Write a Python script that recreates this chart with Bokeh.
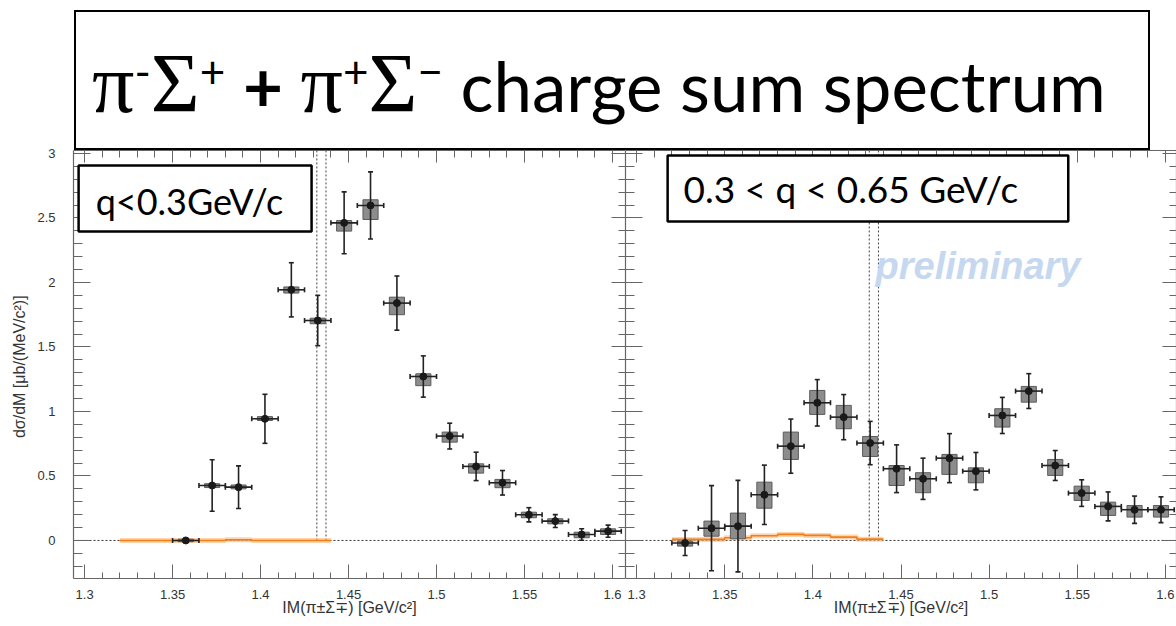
from bokeh.plotting import figure
from bokeh.models import (Div, Span, BoxAnnotation, Label, LinearAxis, FixedTicker,
                          CustomJSTickFormatter, Range1d, ColumnDataSource)
from bokeh.layouts import column, row
from bokeh.embed import file_html
from bokeh.resources import INLINE

# ---------------- data ----------------
x_ticks = [1.3, 1.35, 1.4, 1.45, 1.5, 1.55, 1.6]
x_minor = [1.29, 1.31, 1.32, 1.33, 1.34, 1.36, 1.37, 1.38, 1.39, 1.41, 1.42, 1.43, 1.44,
           1.46, 1.47, 1.48, 1.49, 1.51, 1.52, 1.53, 1.54, 1.56, 1.57, 1.58, 1.59]
y_ticks = [0, 0.5, 1, 1.5, 2, 2.5, 3]
y_minor = [-0.2, -0.1, 0.1, 0.2, 0.3, 0.4, 0.6, 0.7, 0.8, 0.9, 1.1, 1.2, 1.3, 1.4, 1.6, 1.7,
           1.8, 1.9, 2.1, 2.2, 2.3, 2.4, 2.6, 2.7, 2.8, 2.9]

thresholds = [1.4320, 1.4372]   # K-p and K0bar n thresholds (GeV/c^2)
bin_half = 0.0075
sys_half = 0.0043

# left panel: q < 0.3 GeV/c
left_mass = [1.3575, 1.3725, 1.3875, 1.4025, 1.4175, 1.4325, 1.4475, 1.4625, 1.4775,
             1.4925, 1.5075, 1.5225, 1.5375, 1.5525, 1.5675, 1.5825, 1.5975]
left_val = [0.0, 0.426, 0.413, 0.943, 1.943, 1.705, 2.462, 2.597, 1.84,
            1.271, 0.809, 0.574, 0.447, 0.199, 0.15, 0.046, 0.072]
left_stat = [0.01, 0.2, 0.165, 0.19, 0.21, 0.195, 0.24, 0.26, 0.21,
             0.16, 0.1, 0.11, 0.095, 0.055, 0.05, 0.045, 0.047]
left_sys_lo = [-0.01, 0.41, 0.40, 0.93, 1.918, 1.68, 2.398, 2.488, 1.75,
               1.2, 0.762, 0.522, 0.409, 0.176, 0.129, 0.021, 0.046]
left_sys_hi = [0.01, 0.44, 0.43, 0.96, 1.965, 1.723, 2.48, 2.641, 1.886,
               1.292, 0.84, 0.594, 0.473, 0.219, 0.168, 0.064, 0.09]

# right panel: 0.3 < q < 0.65 GeV/c
right_mass = [1.3275, 1.3425, 1.3575, 1.3725, 1.3875, 1.4025, 1.4175, 1.4325, 1.4475, 1.4625,
              1.4775, 1.4925, 1.5075, 1.5225, 1.5375, 1.5525, 1.5675, 1.5825, 1.5975]
right_val = [-0.02, 0.095, 0.111, 0.354, 0.731, 1.067, 0.956, 0.755, 0.556, 0.478,
             0.638, 0.537, 0.969, 1.158, 0.581, 0.367, 0.264, 0.238, 0.238]
right_stat = [0.097, 0.33, 0.355, 0.23, 0.21, 0.18, 0.175, 0.168, 0.185, 0.16,
              0.19, 0.145, 0.14, 0.135, 0.116, 0.103, 0.112, 0.106, 0.1]
right_sys_lo = [-0.044, 0.033, 0.013, 0.25, 0.628, 0.977, 0.866, 0.651, 0.426, 0.37,
                0.512, 0.447, 0.879, 1.072, 0.504, 0.31, 0.194, 0.181, 0.181]
right_sys_hi = [-0.005, 0.15, 0.212, 0.452, 0.84, 1.163, 1.047, 0.806, 0.581, 0.525,
                0.667, 0.563, 1.021, 1.194, 0.628, 0.421, 0.297, 0.271, 0.271]

# orange histogram (background estimate)
orange_edges = [1.32, 1.335, 1.35, 1.365, 1.38, 1.395, 1.41, 1.425, 1.44]
left_orange = [0.0, 0.0, 0.0, 0.0, 0.005, 0.0, 0.0, 0.0]
right_orange = [0.008, 0.008, 0.021, 0.036, 0.047, 0.039, 0.026, 0.01]

AXIS_COL = "#666666"
LABEL_COL = "#333333"
FONT = "Liberation Sans"


def style_axis(ax, ticks, minor, tick_len, minor_len, labels):
    ax.ticker = FixedTicker(ticks=ticks, minor_ticks=minor)
    ax.major_tick_in = tick_len
    ax.major_tick_out = 0
    ax.minor_tick_in = minor_len
    ax.minor_tick_out = 0
    ax.axis_line_color = AXIS_COL
    ax.major_tick_line_color = AXIS_COL
    ax.minor_tick_line_color = AXIS_COL
    ax.axis_line_width = 1.2
    if labels:
        ax.formatter = CustomJSTickFormatter(code="return tick.toString();")
        ax.major_label_text_font = FONT
        ax.major_label_text_font_size = "13px"
        ax.major_label_text_color = LABEL_COL
    else:
        ax.formatter = CustomJSTickFormatter(code="return '';")
        ax.major_label_text_font_size = "0px"
        ax.major_label_standoff = 0


def make_panel(mass, val, stat, sys_lo, sys_hi, orange, x_start, x_end, width,
               border_left, left_labels):
    p = figure(width=width, height=484, output_backend="svg", toolbar_location=None,
               x_range=Range1d(x_start, x_end), y_range=Range1d(-0.295, 3.023),
               min_border_left=border_left, min_border_right=0,
               min_border_top=8, min_border_bottom=48)
    p.border_fill_color = None
    p.outline_line_color = None
    p.background_fill_color = "white"
    p.xgrid.visible = False
    p.ygrid.visible = False

    style_axis(p.xaxis[0], x_ticks, x_minor, 14, 6, True)
    p.xaxis[0].major_label_standoff = 11
    p.xaxis[0].axis_label = "IM(π±Σ∓) [GeV/c²]"
    p.xaxis[0].axis_label_text_font = FONT
    p.xaxis[0].axis_label_text_font_size = "16px"
    p.xaxis[0].axis_label_text_font_style = "normal"
    p.xaxis[0].axis_label_text_color = LABEL_COL
    p.xaxis[0].axis_label_standoff = -3

    style_axis(p.yaxis[0], y_ticks, y_minor, 17, 9, left_labels)
    if left_labels:
        p.yaxis[0].major_label_standoff = 18
        p.yaxis[0].axis_label = "dσ/dM  [μb/(MeV/c²)]"
        p.yaxis[0].axis_label_text_font = FONT
        p.yaxis[0].axis_label_text_font_size = "16px"
        p.yaxis[0].axis_label_text_font_style = "normal"
        p.yaxis[0].axis_label_text_color = LABEL_COL
        p.yaxis[0].axis_label_standoff = 6

    top_ax = LinearAxis()
    style_axis(top_ax, x_ticks, x_minor, 12, 7, False)
    p.add_layout(top_ax, "above")
    right_ax = LinearAxis()
    style_axis(right_ax, y_ticks, y_minor, 14, 7, False)
    p.add_layout(right_ax, "right")

    # dotted reference lines
    p.add_layout(Span(location=0, dimension="width", line_color="#333333",
                      line_dash="2 2", line_width=1, level="underlay"))
    p.segment(x0=thresholds, y0=[0, 0], x1=thresholds, y1=[3.1, 3.1],
              line_color="#444444", line_dash="2 2", line_width=1)

    # orange histogram
    oy = orange + [orange[-1]]
    p.step(x=orange_edges, y=oy, mode="after", line_color="#ffb877", line_width=5, line_alpha=0.6)
    p.step(x=orange_edges, y=oy, mode="after", line_color="#f07f1a", line_width=1.6)

    lo = [v - e for v, e in zip(val, stat)]
    hi = [v + e for v, e in zip(val, stat)]
    xl = [m - bin_half for m in mass]
    xr = [m + bin_half for m in mass]
    src = ColumnDataSource(dict(m=mass, v=val, lo=lo, hi=hi, xl=xl, xr=xr,
                                bl=[m - sys_half for m in mass],
                                br=[m + sys_half for m in mass],
                                slo=sys_lo, shi=sys_hi))
    p.quad(left="bl", right="br", bottom="slo", top="shi", source=src,
           fill_color="#8c8c8c", line_color="#5c5c5c", line_width=1)
    p.segment(x0="m", y0="lo", x1="m", y1="hi", source=src, line_color="#222222", line_width=1.6)
    p.segment(x0="xl", y0="v", x1="xr", y1="v", source=src, line_color="#222222", line_width=1.6)
    p.scatter(x="m", y="lo", source=src, marker="dash", size=5, line_color="#222222", line_width=1.6)
    p.scatter(x="m", y="hi", source=src, marker="dash", size=5, line_color="#222222", line_width=1.6)
    p.scatter(x="xl", y="v", source=src, marker="dash", size=5, angle=1.5708,
              line_color="#222222", line_width=1.6)
    p.scatter(x="xr", y="v", source=src, marker="dash", size=5, angle=1.5708,
              line_color="#222222", line_width=1.6)
    p.scatter(x="m", y="v", source=src, marker="circle", size=7,
              fill_color="#1a1a1a", line_color="#1a1a1a")
    return p


left = make_panel(left_mass, left_val, left_stat, left_sys_lo, left_sys_hi, left_orange,
                  1.2937, 1.6074, 625, 73, True)
right = make_panel(right_mass, right_val, right_stat, right_sys_lo, right_sys_hi, right_orange,
                   1.2937, 1.6063, 551, 0, False)

# boxes with q ranges
left.add_layout(BoxAnnotation(left=1.2966, right=1.429, bottom=2.395, top=2.907,
                              fill_color="white", fill_alpha=1, line_color="black",
                              line_width=2.5, line_alpha=1))
left.add_layout(Label(x=1.3063, y=2.63, text="q<0.3GeV/c", text_font="Lato",
                      text_font_size="36px", text_color="black", text_baseline="alphabetic"))
right.add_layout(BoxAnnotation(left=1.3176, right=1.5449, bottom=2.473, top=2.984,
                               fill_color="white", fill_alpha=1, line_color="black",
                               line_width=2.5, line_alpha=1))
right.add_layout(Label(x=1.3266, y=2.73, text="0.3 < q < 0.65 GeV/c", text_font="Lato",
                       text_font_size="37px", text_color="black", text_baseline="alphabetic"))
right.add_layout(Label(x=1.4356, y=2.124, text="preliminary", text_font=FONT,
                       text_font_style="bold italic", text_font_size="38px",
                       text_color="#c6d8f0", text_baseline="alphabetic"))

serif = "font-family:'Liberation Serif',serif;font-size:84px;line-height:0;"
sup = "font-size:44px;line-height:0;vertical-align:0.55em;"
title_html = (
    '<div style="margin-left:74px;margin-top:10px;width:1076px;height:140px;'
    'border:2px solid #000;box-sizing:border-box;padding-top:39px;padding-left:16px;'
    "font-family:Lato,sans-serif;font-size:69px;line-height:69px;color:#000;white-space:nowrap;\">"
    f'<span style="{serif}">π</span><span style="{sup}">-</span>'
    f'<span style="{serif}">Σ</span><span style="{sup}">+</span>'
    ' <b>+</b> '
    f'<span style="{serif}">π</span><span style="{sup}">+</span>'
    f'<span style="{serif}">Σ</span><span style="{sup}">−</span>'
    ' charge sum spectrum</div>'
)
title = Div(text=title_html, width=1176, height=150, margin=(0, 0, 0, 0))

panels = row(left, right, margin=(-8, 0, 0, 0))
layout = column(title, panels, margin=(0, 0, 0, 0))

open("out.html", "w").write(file_html(layout, INLINE))
